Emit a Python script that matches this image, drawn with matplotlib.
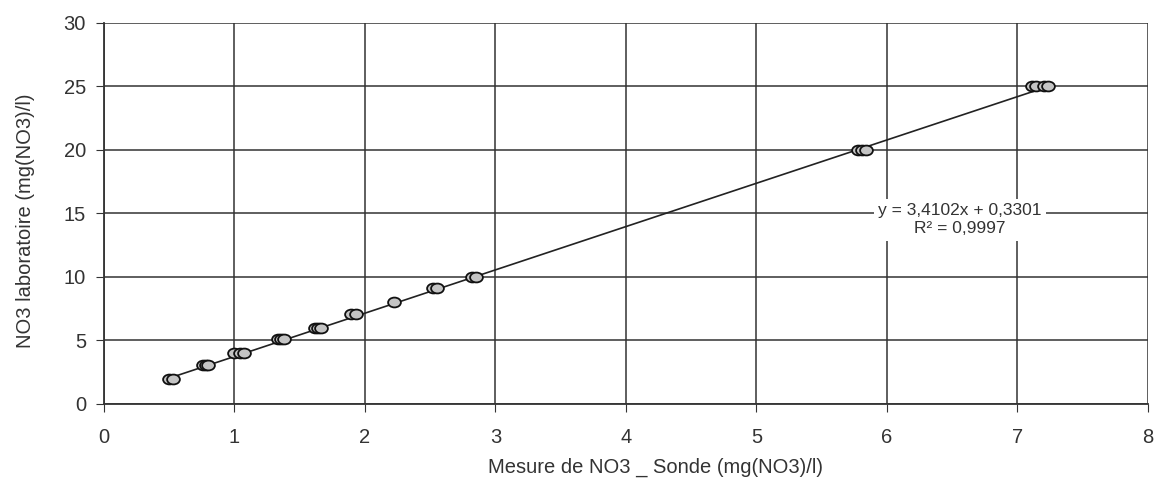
import matplotlib.pyplot as plt
import numpy as np
from matplotlib.path import Path
from matplotlib.transforms import Affine2D

plt.rcParams['font.family'] = ['Liberation Sans', 'DejaVu Sans']

# probe readings (x) vs lab readings (y)
sonde = [0.50, 0.53, 0.76, 0.78, 0.80, 1.00, 1.04, 1.07, 1.33, 1.36, 1.38,
         1.62, 1.64, 1.66, 1.89, 1.93, 2.22, 2.52, 2.55, 2.82, 2.85,
         5.78, 5.81, 5.84, 7.11, 7.14, 7.20, 7.23]
labo = [2.0, 2.0, 3.1, 3.1, 3.1, 4.0, 4.0, 4.0, 5.1, 5.1, 5.1,
        6.0, 6.0, 6.0, 7.1, 7.1, 8.0, 9.1, 9.1, 10.0, 10.0,
        20.0, 20.0, 20.0, 25.0, 25.0, 25.0, 25.0]
slope = 3.4102
intercept = 0.3301
r2 = 0.9997

# slightly flattened circle, like the stretched markers in the original
ellipse = Affine2D().scale(1.3, 1.0).transform_path(Path.unit_circle())

fig = plt.figure(figsize=(11.59, 4.84), dpi=100)
ax = fig.add_axes([0.0897, 0.1653, 0.9008, 0.7872])

ax.set_xlim(0, 8)
ax.set_ylim(0, 30)
ax.set_xticks(range(0, 9))
ax.set_yticks(range(0, 31, 5))
ax.grid(True, color='#333333', linewidth=1.1)
ax.set_axisbelow(True)
for s in ['top', 'right']:
    ax.spines[s].set_visible(False)
for s in ['left', 'bottom']:
    ax.spines[s].set_color('#333333')
    ax.spines[s].set_linewidth(1.3)
ax.tick_params(direction='out', length=6, colors='#333333', labelsize=14.5,
               labelcolor='#333333')
ax.tick_params(axis='x', pad=11)
ax.tick_params(axis='y', pad=7)

xs = np.array([min(sonde), max(sonde)])
ax.plot(xs, slope * xs + intercept, color='#222222', linewidth=1.2, zorder=3)
ax.scatter(sonde, labo, s=85, marker=ellipse, facecolor='#c4c4c4',
           edgecolor='#111111', linewidth=1.3, zorder=4)

txt = f'y = {slope:.4f}x + {intercept:.4f}\nR² = {r2:.4f}'.replace('.', ',')
ax.text(6.56, 14.5, txt, ha='center', va='center', fontsize=12.5,
        color='#333333', linespacing=1.25,
        bbox=dict(facecolor='white', edgecolor='none', pad=3), zorder=5)

ax.set_xlabel('Mesure de NO3 _ Sonde (mg(NO3)/l)', fontsize=14.5, color='#333333')
ax.xaxis.set_label_coords(0.528, -0.14)
ax.set_ylabel('NO3 laboratoire (mg(NO3)/l)', fontsize=14.5, color='#333333')
ax.yaxis.set_label_coords(-0.066, 0.48)

fig.savefig('out.png', dpi=100)
